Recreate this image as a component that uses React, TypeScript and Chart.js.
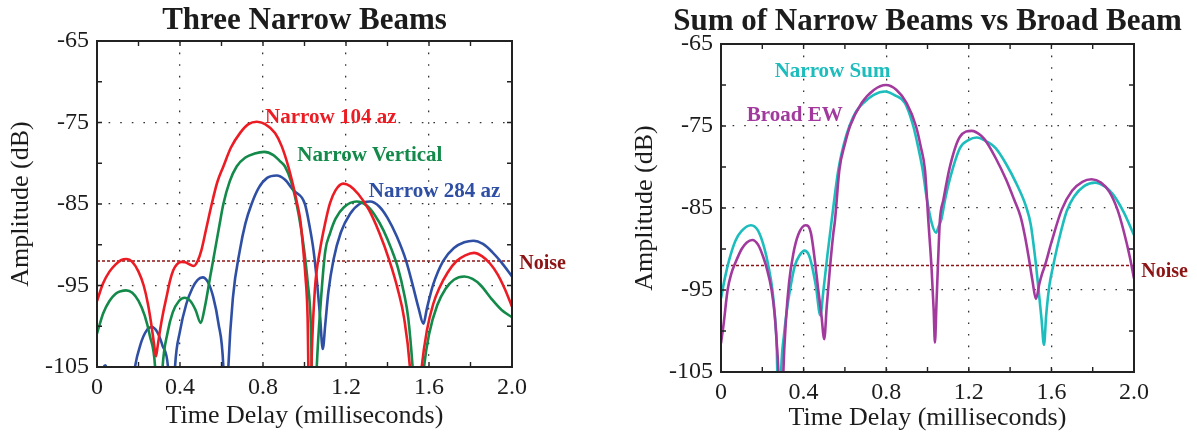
import React, { useEffect, useRef } from "react";
import { Chart, registerables } from "chart.js";

Chart.register(...registerables);

const FONT = '"Liberation Serif", "Times New Roman", serif';
const INK = "#1c1c1c";

// ---------- Left chart: Three Narrow Beams ----------
const redTime = [0, 0.03, 0.06, 0.09, 0.115, 0.143, 0.17, 0.2, 0.225, 0.245, 0.262, 0.275, 0.284, 0.292, 0.305, 0.32, 0.336, 0.352, 0.368, 0.385, 0.405, 0.425, 0.445, 0.467, 0.485, 0.504, 0.525, 0.553, 0.58, 0.609, 0.645, 0.689, 0.73, 0.77, 0.81, 0.858, 0.89, 0.922, 0.946, 0.965, 0.98, 0.994, 1.005, 1.015, 1.025, 1.035, 1.05, 1.075, 1.1, 1.123, 1.15, 1.187, 1.22, 1.26, 1.31, 1.36, 1.41, 1.45, 1.48, 1.508, 1.53, 1.55, 1.565, 1.59, 1.62, 1.65, 1.69, 1.733, 1.775, 1.817, 1.855, 1.894, 1.93, 1.965, 2.0];
const redDb = [-96.9, -94.7, -93.3, -92.4, -91.9, -91.75, -92.1, -93.3, -95.0, -97.2, -99.8, -102.2, -103.7, -102.5, -100.3, -98.2, -96.3, -94.4, -93.1, -92.4, -92.1, -92.15, -92.4, -92.6, -92.0, -90.6, -88.2, -85.0, -82.3, -80.4, -78.1, -76.3, -75.2, -74.9, -75.2, -76.3, -77.9, -80.4, -82.8, -85.0, -87.0, -90.6, -94.0, -99.0, -115, -103.5, -95.5, -90.6, -87.3, -84.9, -83.3, -82.5, -82.8, -83.8, -85.7, -88.5, -92.0, -95.5, -99.0, -105.0, -115, -110, -105.0, -100.5, -97.3, -95.3, -93.4, -92.0, -91.3, -91.0, -91.4, -92.3, -93.6, -95.4, -97.6];

const greenTime = [0, 0.03, 0.06, 0.09, 0.115, 0.14, 0.17, 0.2, 0.23, 0.255, 0.28, 0.297, 0.316, 0.34, 0.365, 0.395, 0.422, 0.45, 0.475, 0.5, 0.52, 0.545, 0.569, 0.59, 0.609, 0.64, 0.673, 0.715, 0.76, 0.806, 0.85, 0.88, 0.906, 0.935, 0.962, 0.982, 0.998, 1.015, 1.03, 1.045, 1.059, 1.08, 1.1, 1.123, 1.15, 1.19, 1.251, 1.3, 1.34, 1.38, 1.42, 1.45, 1.48, 1.5, 1.521, 1.545, 1.576, 1.6, 1.64, 1.68, 1.72, 1.77, 1.81, 1.85, 1.9, 1.95, 2.0];
const greenDb = [-100.9, -98.4, -96.9, -96.0, -95.7, -95.6, -95.9, -96.9, -98.7, -101.2, -105.0, -115, -105.0, -100.8, -98.3, -96.9, -96.5, -96.9, -98.0, -99.6, -97.6, -94.0, -90.6, -87.6, -85.0, -82.2, -80.4, -79.3, -78.8, -78.6, -79.0, -79.7, -80.4, -82.2, -85.0, -87.8, -90.6, -94.5, -99.5, -115, -105.0, -96.5, -90.8, -88.6, -86.8, -85.4, -84.7, -85.2, -86.4, -88.2, -90.6, -92.8, -96.0, -99.0, -105.0, -115, -105.0, -101.0, -97.4, -95.4, -94.3, -93.9, -94.2, -95.0, -96.6, -98.0, -98.9];

const blueTime = [0, 0.02, 0.04, 0.06, 0.085, 0.12, 0.16, 0.183, 0.21, 0.237, 0.264, 0.29, 0.316, 0.344, 0.36, 0.376, 0.4, 0.43, 0.46, 0.485, 0.509, 0.535, 0.56, 0.585, 0.609, 0.621, 0.633, 0.655, 0.689, 0.715, 0.745, 0.78, 0.82, 0.866, 0.905, 0.946, 1.002, 1.025, 1.043, 1.06, 1.075, 1.088, 1.1, 1.115, 1.14, 1.175, 1.22, 1.265, 1.316, 1.36, 1.4, 1.445, 1.49, 1.52, 1.55, 1.573, 1.59, 1.62, 1.668, 1.72, 1.77, 1.814, 1.86, 1.905, 1.95, 2.0];
const blueDb = [-110, -106, -104.8, -106.5, -112, -125, -110, -105.0, -102.2, -100.6, -100.1, -100.7, -102.4, -105.5, -115, -105.0, -100.6, -97.3, -95.3, -94.3, -94.0, -94.6, -96.4, -99.6, -105.0, -115, -105.0, -96.5, -90.6, -87.4, -85.0, -83.0, -81.8, -81.5, -82.0, -83.3, -85.0, -87.8, -90.6, -94.5, -98.8, -102.8, -99.8, -95.8, -91.8, -88.5, -86.2, -85.0, -84.7, -85.3, -86.7, -89.0, -92.0, -94.8, -97.8, -99.7, -97.8, -94.9, -92.0, -90.4, -89.7, -89.5, -89.9, -90.9, -92.2, -93.9];

// ---------- Right chart: Sum of Narrow Beams vs Broad Beam ----------
const cyanTime = [0, 0.02, 0.04, 0.07, 0.1, 0.145, 0.18, 0.21, 0.229, 0.249, 0.262, 0.27, 0.281, 0.292, 0.305, 0.32, 0.334, 0.358, 0.38, 0.404, 0.425, 0.44, 0.46, 0.481, 0.495, 0.515, 0.536, 0.568, 0.595, 0.622, 0.655, 0.689, 0.74, 0.794, 0.845, 0.891, 0.931, 0.955, 0.977, 0.995, 1.02, 1.041, 1.055, 1.068, 1.085, 1.11, 1.157, 1.2, 1.238, 1.287, 1.33, 1.38, 1.43, 1.477, 1.5, 1.521, 1.54, 1.552, 1.564, 1.575, 1.59, 1.609, 1.64, 1.674, 1.71, 1.76, 1.811, 1.86, 1.9, 1.95, 2.0];
const cyanDb = [-96.0, -93.4, -91.3, -89.0, -87.8, -87.1, -87.8, -89.9, -92.0, -95.0, -98.5, -102.0, -115, -104.5, -100.5, -97.3, -95.0, -92.0, -90.8, -90.2, -90.7, -92.0, -94.6, -98.1, -95.3, -90.8, -86.5, -80.4, -77.2, -75.0, -73.2, -72.2, -71.2, -70.8, -71.3, -72.2, -75.0, -77.6, -80.4, -83.6, -86.8, -88.0, -87.2, -86.3, -84.0, -81.3, -77.7, -76.7, -76.4, -76.9, -77.7, -79.6, -82.0, -84.8, -87.0, -91.0, -95.5, -98.5, -101.7, -98.0, -94.5, -92.0, -88.5, -85.4, -83.6, -82.3, -81.9, -82.4, -83.4, -85.5, -88.3];

const purpleTime = [0, 0.012, 0.032, 0.05, 0.071, 0.1, 0.125, 0.152, 0.18, 0.205, 0.221, 0.245, 0.26, 0.27, 0.278, 0.29, 0.302, 0.315, 0.33, 0.35, 0.375, 0.41, 0.435, 0.455, 0.471, 0.486, 0.5, 0.512, 0.528, 0.544, 0.552, 0.573, 0.6, 0.625, 0.681, 0.74, 0.799, 0.85, 0.899, 0.944, 0.968, 0.988, 1.004, 1.02, 1.03, 1.036, 1.043, 1.052, 1.06, 1.077, 1.11, 1.157, 1.214, 1.26, 1.287, 1.33, 1.38, 1.42, 1.45, 1.47, 1.49, 1.508, 1.525, 1.542, 1.555, 1.569, 1.6, 1.65, 1.7, 1.75, 1.795, 1.84, 1.88, 1.92, 1.95, 1.98, 2.0];
const purpleDb = [-101.5, -99.3, -95.0, -93.0, -91.6, -90.0, -89.2, -88.9, -89.5, -91.0, -92.3, -95.0, -98.0, -101.5, -105.0, -118, -105.0, -98.5, -94.0, -90.6, -88.2, -87.1, -88.0, -91.5, -95.0, -98.0, -101.0, -97.0, -92.2, -88.1, -86.5, -80.4, -77.2, -75.0, -72.2, -70.6, -70.0, -70.6, -72.2, -75.0, -77.6, -80.4, -86.5, -92.5, -97.5, -101.4, -97.0, -91.0, -86.5, -84.0, -79.8, -76.3, -75.6, -76.2, -77.0, -78.9, -81.5, -84.0, -86.0, -88.2, -91.0, -93.8, -96.1, -94.2, -93.0, -92.0, -89.2, -85.2, -82.9, -81.8, -81.5, -81.9, -83.0, -85.2, -87.8, -91.0, -93.6];

// ---------- Shared ----------
const noiseTime = [0, 2];
const noiseDb = [-92, -92];
const xTicks = [0, 0.4, 0.8, 1.2, 1.6, 2.0];
const xTickLabels = ["0", "0.4", "0.8", "1.2", "1.6", "2.0"];
const yTicks = [-105, -95, -85, -75, -65];
const yTickLabels = ["-105", "-95", "-85", "-75", "-65"];
const xMinorTicks = [0, 0.2, 0.4, 0.6, 0.8, 1.0, 1.2, 1.4, 1.6, 1.8, 2.0];
const yMinorTicks = [-105, -100, -95, -90, -85, -80, -75, -70, -65];

const COLORS = {
  red: "#ec1c24",
  green: "#138a4a",
  blue: "#2e4fa3",
  cyan: "#1dbdbd",
  purple: "#a23a9e",
  noise: "#8c1414",
};

function pts(t: number[], v: number[]) {
  return t.map((x, i) => ({ x, y: v[i] }));
}

function curve(label: string, t: number[], v: number[], color: string) {
  return {
    label,
    data: pts(t, v),
    borderColor: color,
    backgroundColor: color,
    borderWidth: 2.6,
    pointRadius: 0,
    cubicInterpolationMode: "monotone" as const,
    clip: 0,
    fill: false,
  };
}

const framePlugin = {
  id: "frame",
  afterDraw(chart: any, _args: any, opts: any) {
    const { ctx, chartArea } = chart;
    const { left, right, top, bottom } = chartArea;
    const xs = chart.scales.x;
    const ys = chart.scales.y;
    ctx.save();
    ctx.strokeStyle = "#222";
    ctx.lineWidth = 1.4;
    ctx.beginPath();
    for (const v of xMinorTicks) {
      const px = xs.getPixelForValue(v);
      ctx.moveTo(px, bottom);
      ctx.lineTo(px, bottom - 5);
      ctx.moveTo(px, top);
      ctx.lineTo(px, top + 5);
    }
    for (const v of yMinorTicks) {
      const py = ys.getPixelForValue(v);
      ctx.moveTo(left, py);
      ctx.lineTo(left + 5, py);
      ctx.moveTo(right, py);
      ctx.lineTo(right - 5, py);
    }
    ctx.stroke();
    ctx.lineWidth = 2;
    ctx.strokeRect(left, top, right - left, bottom - top);

    ctx.fillStyle = INK;
    ctx.font = `bold 31px ${FONT}`;
    ctx.textAlign = "center";
    ctx.textBaseline = "alphabetic";
    ctx.fillText(opts.title, (left + right) / 2, opts.titleBaseline);

    ctx.textAlign = "left";
    for (const lab of opts.labels) {
      ctx.font = `bold ${lab.size}px ${FONT}`;
      ctx.fillStyle = lab.color;
      ctx.fillText(lab.text, xs.getPixelForValue(lab.t), ys.getPixelForValue(lab.v));
    }
    ctx.restore();
  },
};

function makeConfig(spec: any) {
  return {
    type: "line" as const,
    data: { datasets: spec.datasets },
    plugins: [framePlugin],
    options: {
      animation: false as const,
      responsive: false,
      devicePixelRatio: 1,
      layout: { padding: { left: 0, right: spec.padRight, top: spec.padTop, bottom: 0 } },
      plugins: {
        legend: { display: false },
        title: { display: false },
        tooltip: { enabled: false },
        frame: { title: spec.title, titleBaseline: spec.titleBaseline, labels: spec.labels },
      },
      scales: {
        x: {
          type: "linear" as const,
          min: 0,
          max: 2,
          afterBuildTicks: (s: any) => {
            s.ticks = xTicks.map((value) => ({ value }));
          },
          afterFit: (s: any) => {
            s.height = spec.xAxisHeight;
          },
          ticks: {
            callback: (_v: any, i: number) => xTickLabels[i],
            font: { family: FONT, size: 24 },
            color: INK,
            padding: 6,
            maxRotation: 0,
            autoSkip: false,
          },
          grid: { color: "#333", lineWidth: 1.3, drawTicks: false },
          border: { display: false, dash: [1.6, 10] },
          title: {
            display: true,
            text: "Time Delay (milliseconds)",
            font: { family: FONT, size: 26 },
            color: INK,
            padding: { top: 0, bottom: spec.xTitlePad },
          },
        },
        y: {
          type: "linear" as const,
          min: -105,
          max: -65,
          afterBuildTicks: (s: any) => {
            s.ticks = yTicks.map((value) => ({ value }));
          },
          afterFit: (s: any) => {
            s.width = 97;
          },
          ticks: {
            callback: (_v: any, i: number) => yTickLabels[i],
            font: { family: FONT, size: 24 },
            color: INK,
            padding: 8,
            autoSkip: false,
          },
          grid: { color: "#333", lineWidth: 1.3, drawTicks: false },
          border: { display: false, dash: [1.6, 10] },
          title: {
            display: true,
            text: "Amplitude (dB)",
            font: { family: FONT, size: 26 },
            color: INK,
            padding: { top: 6, bottom: 0 },
          },
        },
      },
    },
  };
}

const leftSpec = {
  title: "Three Narrow Beams",
  titleBaseline: 29,
  padRight: 88,
  padTop: 41,
  xAxisHeight: 69,
  xTitlePad: 4,
  datasets: [
    curve("Narrow 104 az", redTime, redDb, COLORS.red),
    curve("Narrow Vertical", greenTime, greenDb, COLORS.green),
    curve("Narrow 284 az", blueTime, blueDb, COLORS.blue),
    {
      label: "Noise",
      data: pts(noiseTime, noiseDb),
      borderColor: COLORS.noise,
      borderWidth: 1.5,
      borderDash: [3, 2],
      pointRadius: 0,
      clip: 0,
    },
  ],
  labels: [
    { text: "Narrow 104 az", t: 0.81, v: -75.0, color: COLORS.red, size: 21 },
    { text: "Narrow Vertical", t: 0.965, v: -79.7, color: COLORS.green, size: 21 },
    { text: "Narrow 284 az", t: 1.31, v: -84.1, color: COLORS.blue, size: 21 },
    { text: "Noise", t: 2.035, v: -93.0, color: COLORS.noise, size: 20 },
  ],
};

const rightSpec = {
  title: "Sum of Narrow Beams vs Broad Beam",
  titleBaseline: 30,
  padRight: 63,
  padTop: 44,
  xAxisHeight: 64,
  xTitlePad: 2,
  datasets: [
    curve("Broad EW", purpleTime, purpleDb, COLORS.purple),
    curve("Narrow Sum", cyanTime, cyanDb, COLORS.cyan),
    {
      label: "Noise",
      data: pts(noiseTime, noiseDb),
      borderColor: COLORS.noise,
      borderWidth: 1.5,
      borderDash: [3, 2],
      pointRadius: 0,
      clip: 0,
    },
  ],
  labels: [
    { text: "Narrow Sum", t: 0.26, v: -69.0, color: COLORS.cyan, size: 21 },
    { text: "Broad EW", t: 0.125, v: -74.4, color: COLORS.purple, size: 21 },
    { text: "Noise", t: 2.035, v: -93.4, color: COLORS.noise, size: 20 },
  ],
};

function BeamChart({ spec, left, width }: { spec: any; left: number; width: number }) {
  const ref = useRef<HTMLCanvasElement>(null);
  useEffect(() => {
    const chart = new Chart(ref.current as HTMLCanvasElement, makeConfig(spec) as any);
    return () => chart.destroy();
  }, []);
  return (
    <canvas
      ref={ref}
      width={width}
      height={436}
      style={{ position: "absolute", left, top: 0, width, height: 436, display: "block" }}
    />
  );
}

export default function App() {
  return (
    <div style={{ position: "absolute", left: 0, top: 0, width: 1197, height: 436, background: "#fff", overflow: "hidden" }}>
      <BeamChart spec={leftSpec} left={0} width={600} />
      <BeamChart spec={rightSpec} left={624} width={573} />
    </div>
  );
}
